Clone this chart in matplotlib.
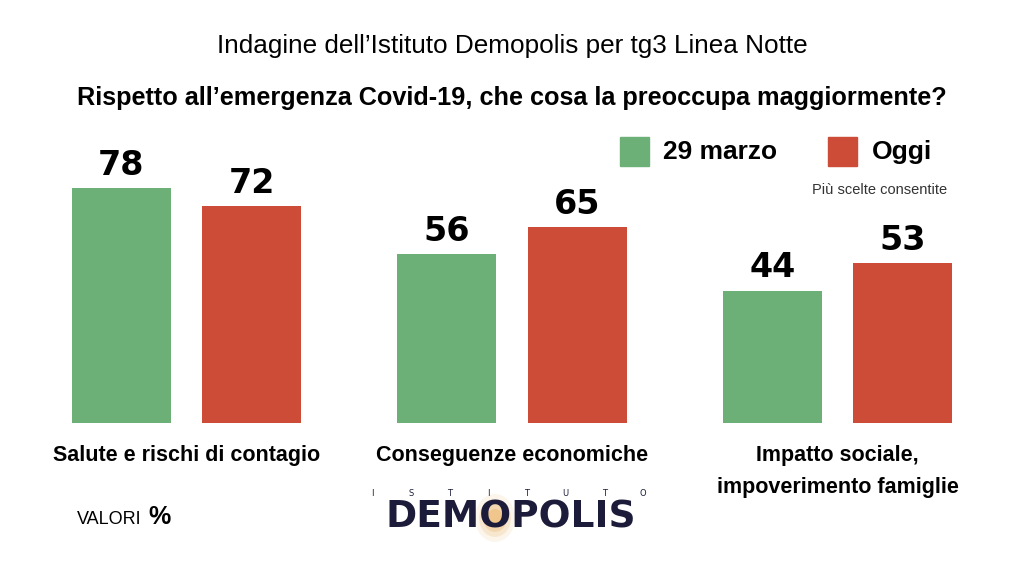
import numpy as np
import matplotlib.pyplot as plt
from matplotlib.patches import Ellipse

categories = ['Salute e rischi di contagio', 'Conseguenze economiche', 'Impatto sociale,\nimpoverimento famiglie']
marzo = [78, 56, 44]
oggi = [72, 65, 53]
series_names = ['29 marzo', 'Oggi']

green = '#6cb077'
red = '#cc4c38'
narrow = ['Liberation Sans', 'DejaVu Sans']

fig = plt.figure(figsize=(10.24, 5.76), dpi=100)
ax = fig.add_axes([72/1024, 153/576, 880/1024, 301/576])

x = np.arange(len(categories))
w = 0.304
off = 0.2
b1 = ax.bar(x - off, marzo, w, color=green)
b2 = ax.bar(x + off, oggi, w, color=red)

for bars, vals in [(b1, marzo), (b2, oggi)]:
    for b, v in zip(bars, vals):
        ax.text(b.get_x() + b.get_width()/2, v + 2.2, str(v), ha='center', va='bottom',
                fontsize=24, fontweight='heavy', family='DejaVu Sans', color='black')

ax.set_xlim(-0.352, 2.352)
ax.set_ylim(0, 100)
ax.set_yticks([])
ax.set_xticks(x)
ax.set_xticklabels(categories, family=narrow, fontsize=15.5, fontweight='bold', linespacing=1.7)
ax.tick_params(axis='x', length=0, pad=16)
for s in ax.spines.values():
    s.set_visible(False)

# titles
fig.text(0.5, 1 - 46/576, "Indagine dell\u2019Istituto Demopolis per tg3 Linea Notte", ha='center', va='center',
         family=narrow, fontsize=18.8)
fig.text(0.5, 1 - 98/576, "Rispetto all\u2019emergenza Covid-19, che cosa la preoccupa maggiormente?", ha='center', va='center',
         family=narrow, fontsize=18.2, fontweight='bold')

# legend
for xs, col, name, xt in [(620, green, series_names[0], 663), (828, red, series_names[1], 872)]:
    fig.patches.append(plt.Rectangle((xs/1024, 1 - 166/576), 29/1024, 29/576, transform=fig.transFigure,
                                     color=col, figure=fig))
    fig.text(xt/1024, 1 - 152/576, name, ha='left', va='center', family=narrow, fontsize=19, fontweight='bold')
fig.text(947/1024, 1 - 190/576, 'Più scelte consentite', ha='right', va='center', family=narrow, fontsize=10.5,
         color='#333333')

# bottom left
fig.text(77/1024, 1 - 519/576, 'VALORI', ha='left', va='center', family=narrow, fontsize=13)
fig.text(148/1024, 1 - 517/576, '%', ha='left', va='center', family=narrow, fontsize=18, fontweight='bold')

# logo
for rx, ry, a in [(20, 24, 0.10), (16, 19, 0.16), (12, 14, 0.22), (8, 9, 0.3)]:
    fig.patches.append(Ellipse((495/1024, 1 - 518/576), 2*rx/1024, 2*ry/576, transform=fig.transFigure,
                               color='#e8a040', alpha=a, lw=0, figure=fig))
for lx, ch in zip(np.linspace(372, 643, 8), 'ISTITUTO'):
    fig.text(lx/1024, 1 - 493/576, ch, ha='center', va='center', fontsize=6, color='#1c1c3a')
fig.text(511/1024, 1 - 518/576, 'DEMOPOLIS', ha='center', va='center', fontsize=27, fontweight='heavy',
         family='DejaVu Sans', color='#1c1c3a')

fig.savefig('out.png', dpi=100, facecolor='white')
